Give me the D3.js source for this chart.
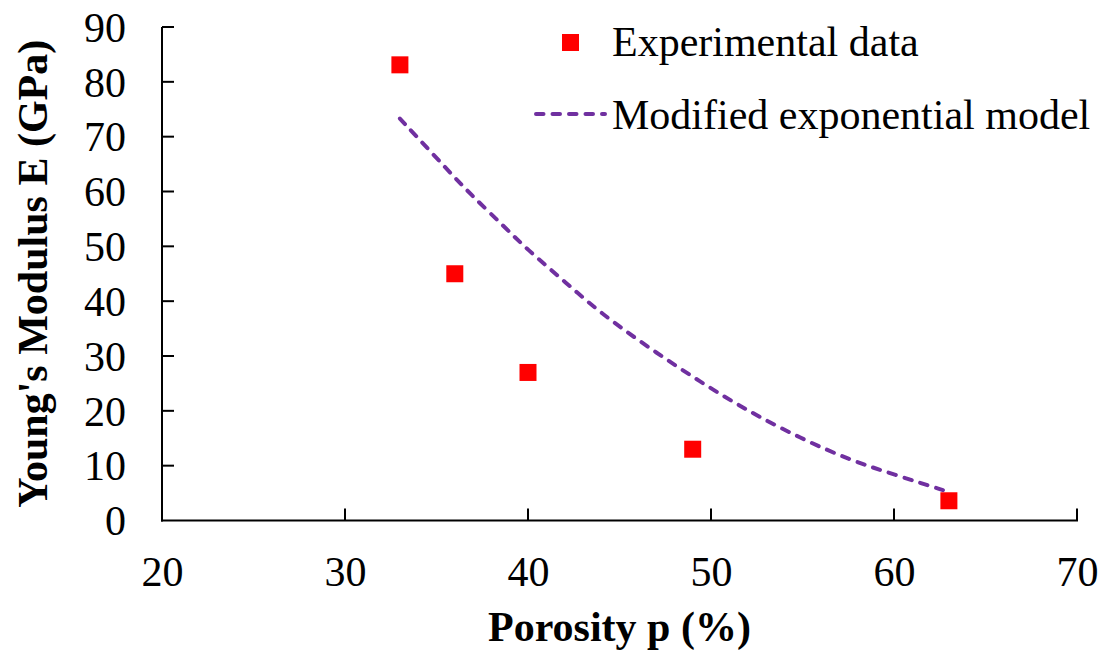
<!DOCTYPE html>
<html>
<head>
<meta charset="utf-8">
<script src="https://cdn.jsdelivr.net/npm/d3@7"></script>
<style>
  html, body { margin: 0; padding: 0; background: #fff; }
  text { font-family: "Liberation Serif", "Times New Roman", serif; fill: #000; }
</style>
</head>
<body>
<svg id="chart" width="1104" height="655"></svg>
<script>
// ---- data ----
const expPorosity = [33, 36, 40, 49, 63];
const expModulus  = [83.1, 45.0, 27.0, 13.0, 3.6];

const modelPorosity = [33.0, 35.7, 36.8, 38.7, 39.9, 42.1, 43.9, 46.6, 49.4, 52.1, 54.9, 57.6, 60.0, 62.9];
const modelModulus  = [73.3, 63.6, 59.7, 53.6, 49.6, 43.3, 38.0, 31.5, 25.3, 19.8, 15.0, 11.0, 8.4, 5.3];

const xTicks = [20, 30, 40, 50, 60, 70];
const yTicks = [0, 10, 20, 30, 40, 50, 60, 70, 80, 90];

const legendLabels = ["Experimental data", "Modified exponential model"];
const xTitle = "Porosity p (%)";
const yTitle = "Young's Modulus E (GPa)";

// ---- layout ----
const svg = d3.select("#chart");
const mLeft = 162, mRight = 1077, mTop = 27, mBottom = 520.5;

const x = d3.scaleLinear().domain([20, 70]).range([mLeft, mRight]);
const y = d3.scaleLinear().domain([0, 90]).range([mBottom, mTop]);

const fontSize = 42;

// axes
const yAxis = d3.axisLeft(y).tickValues(yTicks).tickSize(0).tickPadding(0).tickFormat(d3.format("d"));
const gy = svg.append("g").attr("transform", `translate(${mLeft},0)`).call(yAxis);
gy.select(".domain").remove();
gy.selectAll(".tick line").remove();
gy.selectAll(".tick text")
  .attr("x", -36).attr("dy", "0.34em")
  .style("font-size", fontSize + "px")
  .style("font-family", '"Liberation Serif", "Times New Roman", serif')
  .attr("fill", "#000");
// inward y ticks
svg.append("g").selectAll("line").data(yTicks.filter(d => d !== 0)).join("line")
  .attr("x1", mLeft).attr("x2", mLeft + 12)
  .attr("y1", d => y(d)).attr("y2", d => y(d))
  .attr("stroke", "#000").attr("stroke-width", 2);

const xAxis = d3.axisBottom(x).tickValues(xTicks).tickSize(0).tickPadding(0).tickFormat(d3.format("d"));
const gx = svg.append("g").attr("transform", `translate(0,${mBottom})`).call(xAxis);
gx.select(".domain").remove();
gx.selectAll(".tick line").remove();
gx.selectAll(".tick text")
  .attr("y", 65).attr("dy", 0)
  .style("font-size", fontSize + "px")
  .style("font-family", '"Liberation Serif", "Times New Roman", serif')
  .attr("fill", "#000");
// inward x ticks
svg.append("g").selectAll("line").data(xTicks.filter(d => d !== 20)).join("line")
  .attr("x1", d => x(d)).attr("x2", d => x(d))
  .attr("y1", mBottom).attr("y2", mBottom - 12)
  .attr("stroke", "#000").attr("stroke-width", 2);

// axis lines
svg.append("line").attr("x1", mLeft).attr("x2", mLeft).attr("y1", mTop).attr("y2", mBottom + 1)
  .attr("stroke", "#000").attr("stroke-width", 2);
svg.append("line").attr("x1", mLeft - 1).attr("x2", mRight + 1).attr("y1", mBottom).attr("y2", mBottom)
  .attr("stroke", "#000").attr("stroke-width", 2);

// model curve
const modelData = modelPorosity.map((p, i) => [p, modelModulus[i]]);
const line = d3.line().x(d => x(d[0])).y(d => y(d[1])).curve(d3.curveBasis);
svg.append("path").datum(modelData)
  .attr("d", line)
  .attr("fill", "none")
  .attr("stroke", "#7030A0")
  .attr("stroke-width", 4)
  .attr("stroke-linecap", "round")
  .attr("stroke-dasharray", "7.5,9");

// experimental points
const sq = 17;
svg.append("g").selectAll("rect").data(expPorosity.map((p, i) => [p, expModulus[i]])).join("rect")
  .attr("x", d => x(d[0]) - sq / 2)
  .attr("y", d => y(d[1]) - sq / 2)
  .attr("width", sq).attr("height", sq)
  .attr("fill", "#FF0000");

// legend
svg.append("rect").attr("x", 562).attr("y", 34).attr("width", sq).attr("height", sq).attr("fill", "#FF0000");
svg.append("text").attr("x", 612).attr("y", 56).style("font-size", fontSize + "px").text(legendLabels[0]);
svg.append("line").attr("x1", 536).attr("x2", 605).attr("y1", 114).attr("y2", 114)
  .attr("stroke", "#7030A0").attr("stroke-width", 4)
  .attr("stroke-linecap", "round").attr("stroke-dasharray", "7.5,9");
svg.append("text").attr("x", 612).attr("y", 129).style("font-size", fontSize + "px").text(legendLabels[1]);

// axis titles
svg.append("text").attr("x", (mLeft + mRight) / 2).attr("y", 641)
  .attr("text-anchor", "middle").style("font-size", "42px").style("font-weight", "bold").text(xTitle);
svg.append("text")
  .attr("transform", `translate(47,${(mTop + mBottom) / 2}) rotate(-90)`)
  .attr("text-anchor", "middle").style("font-size", "42px").style("font-weight", "bold").text(yTitle);
</script>
</body>
</html>
